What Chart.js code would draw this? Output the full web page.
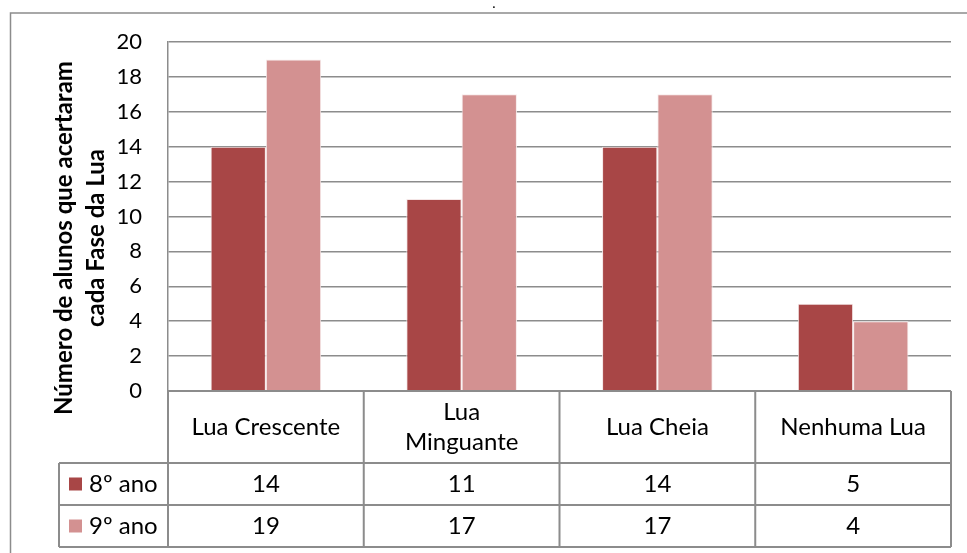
<!DOCTYPE html>
<html>
<head>
<meta charset="utf-8">
<script src="https://cdn.jsdelivr.net/npm/chart.js@4/dist/chart.umd.min.js"></script>
<style>
  html, body { margin: 0; padding: 0; background: #fff; }
  #wrap { width: 967px; height: 553px; }
</style>
</head>
<body>
<div id="wrap"><canvas id="c" width="967" height="553"></canvas></div>
<script>
const categories = ['Lua Crescente', ['Lua', 'Minguante'], 'Lua Cheia', 'Nenhuma Lua'];
const seriesNames = ['8º ano', '9º ano'];
const values8 = [14, 11, 14, 5];
const values9 = [19, 17, 17, 4];
const yTicks = [0, 2, 4, 6, 8, 10, 12, 14, 16, 18, 20];
const yTitle = ['Número de alunos que acertaram', 'cada Fase da Lua'];
const colors = ['#A84646', '#D39191'];

const FONT = 'Lato, "Open Sans", sans-serif';
const LINE = '#8c8c8c';

const tablePlugin = {
  id: 'dataTable',
  beforeDraw(chart) {
    const ctx = chart.ctx;
    ctx.save();
    ctx.fillStyle = '#fff';
    ctx.fillRect(0, 0, chart.width, chart.height);
    ctx.strokeStyle = LINE;
    ctx.lineWidth = 1.5;
    ctx.strokeRect(10.5, 13, chart.width + 20, chart.height + 20);
    ctx.fillStyle = '#000';
    ctx.font = '14px ' + FONT;
    ctx.textAlign = 'center';
    ctx.textBaseline = 'middle';
    ctx.fillText('.', 494, 3);
    ctx.restore();
  },
  afterDraw(chart) {
    const ctx = chart.ctx;
    const area = chart.chartArea;
    const xs = chart.scales.x;
    const n = categories.length;
    const step = (area.right - area.left) / n;
    const top = area.bottom;
    const hdrBottom = top + 72;
    const row1Bottom = hdrBottom + 42;
    const row2Bottom = row1Bottom + 42;
    const legLeft = 59;
    ctx.save();
    // y-axis title
    ctx.fillStyle = '#000';
    ctx.font = 'bold 24px ' + FONT;
    ctx.textAlign = 'center';
    ctx.textBaseline = 'middle';
    yTitle.forEach((t, i) => {
      ctx.save();
      ctx.translate(64 + i * 32, 238);
      ctx.rotate(-Math.PI / 2);
      ctx.fillText(t, 0, 0);
      ctx.restore();
    });
    // grid lines of table
    ctx.strokeStyle = LINE;
    ctx.lineWidth = 2;
    ctx.beginPath();
    ctx.moveTo(area.left, top); ctx.lineTo(area.right, top);
    [hdrBottom, row1Bottom, row2Bottom].forEach(y => {
      ctx.moveTo(legLeft, y); ctx.lineTo(area.right, y);
    });
    for (let i = 0; i <= n; i++) {
      const x = area.left + i * step;
      ctx.moveTo(x, top); ctx.lineTo(x, row2Bottom);
    }
    ctx.moveTo(legLeft, hdrBottom); ctx.lineTo(legLeft, row2Bottom);
    ctx.stroke();
    // header text
    ctx.fillStyle = '#000';
    ctx.font = '24px ' + FONT;
    categories.forEach((c, i) => {
      const cx = xs.getPixelForValue(i);
      const cy = (top + hdrBottom) / 2;
      if (Array.isArray(c)) {
        const lh = 30;
        c.forEach((t, j) => ctx.fillText(t, cx, cy + (j - (c.length - 1) / 2) * lh));
      } else {
        ctx.fillText(c, cx, cy);
      }
    });
    // rows
    const rows = [values8, values9];
    const rowTops = [hdrBottom, row1Bottom];
    rows.forEach((vals, r) => {
      const cy = rowTops[r] + 21;
      vals.forEach((v, i) => ctx.fillText(String(v), xs.getPixelForValue(i), cy));
      ctx.fillStyle = colors[r];
      ctx.fillRect(69, cy - 6.5, 13, 13);
      ctx.fillStyle = '#000';
      ctx.textAlign = 'left';
      ctx.fillText(seriesNames[r], 89, cy);
      ctx.textAlign = 'center';
    });
    ctx.restore();
  }
};

new Chart(document.getElementById('c'), {
  type: 'bar',
  data: {
    labels: categories,
    datasets: [
      { label: seriesNames[0], data: values8, backgroundColor: colors[0], borderColor: '#f4e6e6', borderWidth: 1, categoryPercentage: 0.565, barPercentage: 1 },
      { label: seriesNames[1], data: values9, backgroundColor: colors[1], borderColor: '#f6eaea', borderWidth: 1, categoryPercentage: 0.565, barPercentage: 1 }
    ]
  },
  options: {
    responsive: false,
    animation: false,
    layout: { padding: { top: 42, right: 16, bottom: 162, left: 10 } },
    plugins: { legend: { display: false }, tooltip: { enabled: false }, title: { display: false } },
    scales: {
      x: { display: false },
      y: {
        min: 0, max: 20,
        afterFit(scale) { scale.width = 158; },
        afterBuildTicks(scale) { scale.ticks = yTicks.map(v => ({ value: v })); },
        ticks: { color: '#000', font: { family: FONT, size: 22 }, padding: 26 },
        grid: { color: LINE, lineWidth: 1.5, drawTicks: false },
        border: { display: true, color: LINE, width: 1.5 }
      }
    }
  },
  plugins: [tablePlugin]
});
</script>
</body>
</html>
